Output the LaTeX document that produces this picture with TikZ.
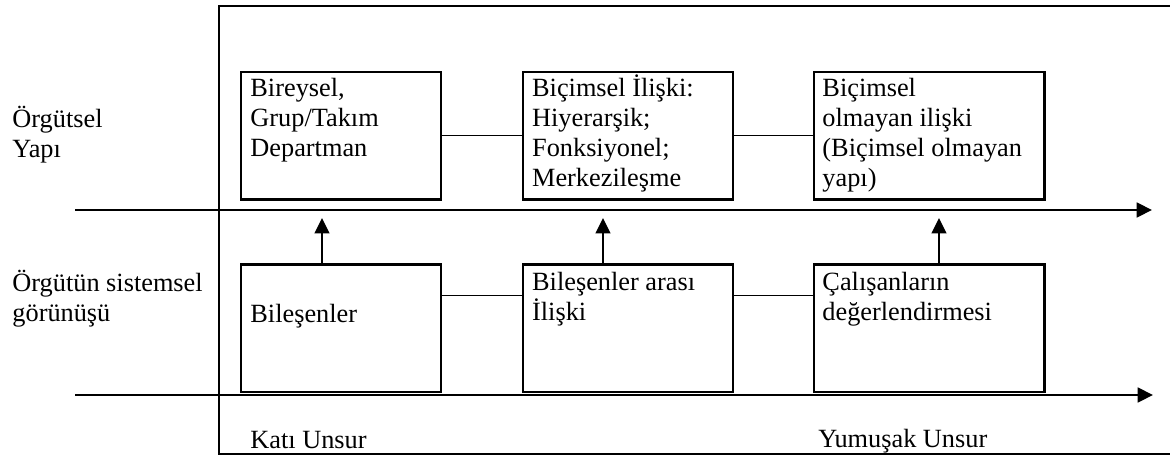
\documentclass[tikz,border=0pt]{standalone}
\usepackage{fontspec}
\setmainfont{Liberation Serif}
\usetikzlibrary{arrows.meta,positioning,calc}
\newcommand{\satirlar}[1]{\parbox[t]{130pt}{#1}}

\begin{document}
\begin{tikzpicture}[x=0.456pt,y=-0.456pt,>={Triangle[length=7pt,width=6.8pt]},
    kutu/.style={draw,line width=1.1pt,inner sep=0pt,anchor=north west,minimum height=58.2pt},
    yazi/.style={inner sep=0pt,anchor=base west,font=\fontsize{12}{13.7}\selectfont},
    baglanti/.style={line width=0.6pt},
    eksen/.style={->,line width=0.8pt}]
    \useasboundingbox (0,0) rectangle (1170,457);
    % outer frame (right side runs off the picture)
    \draw[line width=1pt] (1170,6) -- (219,6) -- (219,454) -- (1170,454);
    % upper row
    \node[kutu,minimum width=91.2pt] (b1) at (240,70.7) {};
    \node[kutu,minimum width=95.8pt] (b2) at (521.7,70.7) {};
    \node[kutu,minimum width=105pt] (b3) at (813,70.7) {};
    % lower row
    \node[kutu,minimum width=91.2pt] (b4) at (240,263.3) {};
    \node[kutu,minimum width=95.8pt] (b5) at (521.7,263.3) {};
    \node[kutu,minimum width=105pt] (b6) at (813,263.3) {};
    % box texts
    \node[yazi] (t1) at (250,96.7) {\satirlar{Bireysel,\\Grup/Takım\\Departman}};
    \node[yazi] (t2) at (531.7,96.7) {\satirlar{Biçimsel İlişki:\\Hiyerarşik;\\Fonksiyonel;\\Merkezileşme}};
    \node[yazi] (t3) at (822,96.7) {\satirlar{Biçimsel\\olmayan ilişki\\(Biçimsel olmayan\\yapı)}};
    \node[yazi] (t4) at (250,322) {Bileşenler};
    \node[yazi] (t5) at (531.7,290) {\satirlar{Bileşenler arası\\İlişki}};
    \node[yazi] (t6) at (822,290) {\satirlar{Çalışanların\\değerlendirmesi}};
    % left labels and bottom labels
    \node[yazi] (l1) at (12,127) {\satirlar{Örgütsel\\Yapı}};
    \node[yazi] (l2) at (12,291.7) {\satirlar{Örgütün sistemsel\\görünüşü}};
    \node[yazi] (k1) at (250,448) {Katı Unsur};
    \node[yazi] (k2) at (818,447) {Yumuşak Unsur};
    % links between boxes
    \draw[baglanti] (b1.east) -- (b2.west);
    \draw[baglanti] (b2.east) -- (b3.west);
    \draw[baglanti] ($(b4.north east)!0.25!(b4.south east)$) -- ($(b5.north west)!0.25!(b5.south west)$);
    \draw[baglanti] ($(b5.north east)!0.25!(b5.south east)$) -- ($(b6.north west)!0.25!(b6.south west)$);
    % axes
    \coordinate (u0) at (75,210);
    \coordinate (u1) at (1152,210);
    \coordinate (a0) at (75,395);
    \coordinate (a1) at (1153,395);
    \draw[eksen] (u0) -- (u1);
    \draw[eksen] (a0) -- (a1);
    % arrows up from the lower boxes
    \foreach \k/\x in {4/322,5/603,6/939}{
      \coordinate (o\k) at (\x,218);
      \draw[->,baglanti] (o\k |- b\k.north) -- (o\k);
    }
\end{tikzpicture}
\end{document}
